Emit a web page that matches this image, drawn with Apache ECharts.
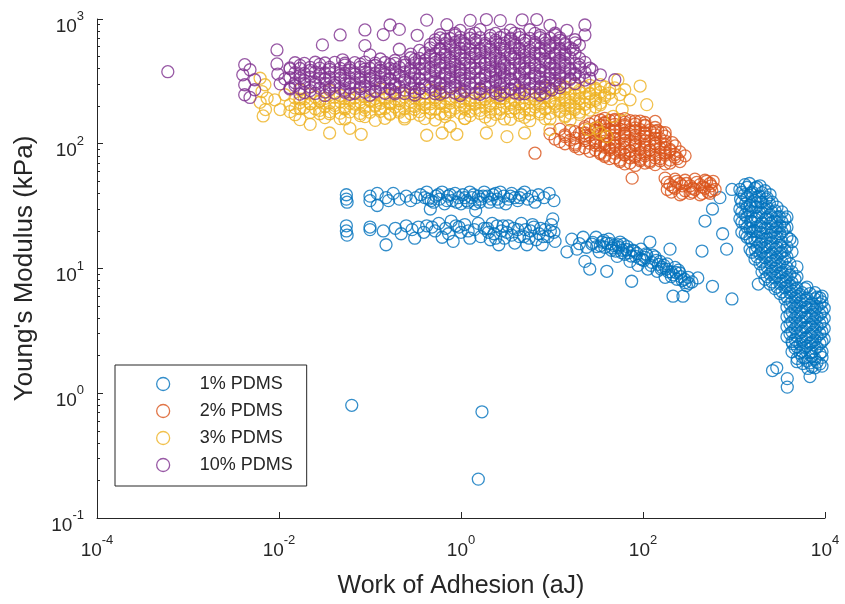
<!DOCTYPE html>
<html>
<head>
<meta charset="utf-8">
<script src="https://cdn.jsdelivr.net/npm/echarts@6/dist/echarts.min.js"></script>
<style>
  html, body { margin: 0; background: #fff; }
  #chart { width: 845px; height: 604px; }
</style>
</head>
<body>
<div id="chart"></div>
<script>
// series names and tick values
const seriesNames = ['1% PDMS', '2% PDMS', '3% PDMS', '10% PDMS'];
const xTicks = [1e-4, 1e-2, 1, 1e2, 1e4];
const yTicks = [0.1, 1, 10, 100, 1000];
const yMinorTicks = [0.2, 0.3, 0.4, 0.5, 0.6, 0.7, 0.8, 0.9,
  2, 3, 4, 5, 6, 7, 8, 9, 20, 30, 40, 50, 60, 70, 80, 90,
  200, 300, 400, 500, 600, 700, 800, 900];

// [work of adhesion (aJ), Young's modulus (kPa)]
const pdms1 = [
  // upper band ~36 kPa
  [0.055,39],[0.055,36],[0.056,34],[0.10,38],[0.10,35],[0.12,40],[0.12,32],[0.15,37],[0.16,35],[0.18,40],
  [0.21,36],[0.25,38],[0.28,35],[0.32,37],[0.40,37],[0.42,41],[0.46,30],[0.47,35],[0.53,38],[0.58,36],
  [0.62,41],[0.66,33],[0.72,38],[0.80,35],[0.86,40],[0.94,37],[1.0,33],[1.05,39],[1.15,35],[1.25,41],
  [1.32,37],[1.42,33],[1.45,29],[1.55,38],[1.65,36],[1.8,41],[1.95,38],[2.05,34],[2.25,39],[2.5,36],
  [2.7,41],[2.95,38],[3.1,33],[3.3,36],[3.6,40],[3.9,37],[4.2,35],[4.6,39],[5.0,41],[5.4,36],
  [6.0,38],[6.5,34],[7.1,39],[8.2,37],[9.3,40],[10.5,35],
  [0.44,36],[0.5,34],[0.56,39],[0.7,35],[0.76,39],[0.9,34],[1.1,37],[1.2,34],[1.38,39],[1.6,34],
  [1.75,38],[2.15,36],[2.4,40],[2.6,34],[3.5,38],[4.4,37],[0.36,39],
  // lower band ~19 kPa
  [0.055,22],[0.055,20],[0.056,18.5],[0.10,20.5],[0.10,21.5],[0.14,20],[0.15,15.5],[0.19,21],[0.22,19],[0.25,22],
  [0.29,20.5],[0.31,17.5],[0.34,21.5],[0.39,19.5],[0.42,22],[0.52,20],[0.57,23],[0.62,17.8],[0.68,21],[0.78,24],
  [0.82,16.5],[0.88,22],[1.0,19.5],[1.1,22.5],[1.25,17.5],[1.4,20.5],[1.55,23],[1.65,18],[1.95,21],[2.1,17],
  [2.3,19],[2.5,22],[2.6,15.5],[2.8,20],[3.0,17.5],[3.3,22],[3.6,18.5],[3.9,16],[4.2,20.5],[4.6,23],
  [4.9,18],[5.3,15.5],[5.8,20],[6.3,21.5],[6.7,17],[7.2,19],[7.8,15.5],[8.4,20.5],[9.0,18],[9.8,22.5],
  [10.2,25],[10.8,16.5],[10.5,19.5],[9.6,20],
  [1.8,21],[2.0,19.5],[2.2,23],[2.4,17.5],[2.9,22],[3.2,19.5],[3.8,21],[4.4,18],[5.1,20.5],[5.6,17.5],
  [6.1,22.5],[7.5,21],[8.0,18],[0.48,21.5],[0.73,19],[0.95,21.5],[1.2,20],
  // sloping band 15 - 600 aJ
  [14.6,13.6],[16.5,17.2],[18.8,14.3],[22,17.8],[23,11.4],[26,9.9],[27.5,15.7],[30.5,17.8],[33,13.6],[35.5,16.3],
  [38,14.8],[40,9.5],[42,17.2],[45,14],[48,15.3],[52,12.5],[56,16.3],[59,14],[63,13],[67,15],
  [72,11.4],[75,7.9],[77,14],[83,12.5],[88,10.6],[95,14.3],[102,11.6],[108,13.1],[113,9.9],[119,16.3],
  [125,11.2],[136,12.4],[143,9.5],[154,11.4],[162,10.2],[175,8.5],[184,10.9],[198,14.3],[203,9.4],[214,6.0],
  [225,10.2],[236,8.2],[255,9.2],[275,6.0],[290,7.7],[313,8.5],[345,7.8],[400,8.4],[445,13.8],[580,7.2],
  [950,5.7],[31,15],[37,16.8],[44,15.8],[50,13.8],[54,14.8],[61,15.6],[70,13.4],[80,13.8],[92,12],
  [105,12.3],[128,12.8],[148,10.8],[170,10.6],[190,9.4],[215,8.9],[245,9.7],[270,8.0],[300,7.3],
  [34,15.2],[40,16],[46,14.6],[53,15.5],[58,13.4],[66,14.2],[74,12.6],[86,13.2],[98,11.8],[110,12.8],
  [122,10.6],[140,11.6],[158,9.9],[180,9.9],[205,8.6],[230,9.3],[260,8.6],[285,8.2],[320,7.6],[28,16.2],
  [24,14.8],[20,15.8],
  // steep cluster 1000 - 10000 aJ
  [1320,47],[1480,48],[1930,46],[1160,43],[1700,44],[2190,42],[1300,39],[1520,40],[1900,38],[2490,39],
  [1180,36],[1700,35],[2250,36],[1340,33],[1500,32],[1960,34],[2450,33],[1160,30],[1480,29],[1720,31],
  [2190,30],[2820,29],[1320,27],[1900,28],[2490,27],[3150,26],[1160,25],[1520,24],[1700,25],[2220,25],
  [2820,24],[3630,25],[1320,23],[1930,22],[2500,23],[3200,22],[1500,21],[1690,20],[2190,21],[2820,20.5],
  [3600,21],[1330,19],[1930,19.5],[2490,18.5],[3200,19],[1500,17.5],[1700,17],[2190,17.2],[2800,17.6],[4120,17.2],
  [1930,15.7],[2490,16],[3200,15.4],[1500,14.3],[1720,14],[2190,14.6],[2820,14.3],[3630,14],[1930,13.1],[2490,12.8],
  [3200,13.3],[1700,11.9],[2190,12.2],[2820,11.7],[3630,12],[1930,10.9],[2500,11.1],[3200,10.7],[4120,10.9],[2190,9.9],
  [2820,10],[3630,9.7],[2490,9.0],[3200,9.2],[4120,8.9],[2190,8.2],[2820,8.4],[3630,8.1],[4680,8.2],[2490,7.5],
  [3200,7.6],[4120,7.4],[2820,6.9],[3630,7.0],[4680,6.8],[6030,6.9],[3200,6.3],[4120,6.4],[5310,6.2],[6840,6.3],
  [7760,6.4],[3630,5.7],[4680,5.8],[6030,5.6],[7760,5.7],[8810,5.8],[4120,5.2],[5310,5.3],[6840,5.1],[8810,5.2],
  [4680,4.8],[6030,4.9],[7760,4.7],[9800,4.8],[4120,4.3],[5310,4.4],[6840,4.2],[8810,4.3],[4680,4.0],[6030,4.05],
  [7760,3.95],[9800,4.0],[4120,3.6],[5310,3.65],[6840,3.55],[8810,3.6],[4680,3.3],[6030,3.35],[7760,3.25],[9800,3.3],
  [4120,3.0],[5310,3.05],[6840,2.95],[8810,3.0],[4680,2.7],[6030,2.75],[7760,2.68],[9800,2.72],[4400,2.5],[5310,2.48],
  [6840,2.52],[8810,2.5],[4680,2.3],[6030,2.32],[7760,2.28],[5310,2.1],[6840,2.12],[8810,2.08],[4950,1.9],[6030,1.92],
  [7760,1.88],[5700,1.73],[6840,1.75],[8810,1.72],[6500,1.58],[7760,1.6],
  [1390,44.8],[1790,45],[1220,40.8],[1580,41],[2030,40.6],[1390,37.2],[1790,37.4],[2310,37],
  [1220,34],[1580,34.2],[2030,33.8],[2620,34],[1390,31],[1790,31.2],[2310,30.8],[2970,31],
  [1220,28.3],[1580,28.5],[2030,28.1],[2620,28.3],[3370,28.4],[1390,25.8],[1790,26],[2310,25.6],[2970,25.8],[3820,25.9],
  [1220,23.5],[1580,23.7],[2030,23.3],[2620,23.5],[3370,23.6],[1390,21.4],[1790,21.6],[2310,21.2],[2970,21.4],[3820,21.5],
  [1220,19.5],[1580,19.7],[2030,19.3],[2620,19.5],[3370,19.6],[1390,17.8],[1790,18],[2310,17.6],[2970,17.8],[3820,17.9],
  [1580,16.3],[2030,16.4],[2620,16.2],[3370,16.3],[4340,16.4],[1790,14.9],[2310,15],[2970,14.8],[3820,14.9],
  [1580,13.5],[2030,13.6],[2620,13.4],[3370,13.5],[4340,13.6],[1790,12.4],[2310,12.5],[2970,12.3],[3820,12.4],
  [2030,11.3],[2620,11.4],[3370,11.2],[2310,10.3],[2970,10.4],[3820,10.2],[4920,10.3],
  [2030,9.4],[2620,9.5],[3370,9.3],[4340,9.4],[2310,8.6],[2970,8.7],[3820,8.5],[4920,8.6],
  [2620,7.8],[3370,7.9],[4340,7.7],[2970,7.1],[3820,7.2],[4920,7.0],[6340,7.1],[3370,6.5],[4340,6.6],[5590,6.4],
  [3820,5.9],[4920,6.0],[6340,5.8],[8170,5.9],[9270,6.0],[4340,5.4],[5590,5.5],[7190,5.3],[9270,5.4],
  [3820,4.9],[4920,5.0],[6340,4.85],[8170,4.95],[4340,4.5],[5590,4.55],[7190,4.45],[9270,4.5],
  [3820,4.1],[4920,4.15],[6340,4.05],[8170,4.1],[4340,3.74],[5590,3.78],[7190,3.7],[9270,3.74],
  [3820,3.41],[4920,3.45],[6340,3.38],[8170,3.42],[4340,3.11],[5590,3.14],[7190,3.08],[9270,3.11],
  [3820,2.84],[4920,2.87],[6340,2.81],[8170,2.85],[4340,2.59],[5590,2.62],[7190,2.56],[9270,2.59],
  [4920,2.36],[6340,2.38],[8170,2.34],[4340,2.15],[5590,2.17],[7190,2.13],[9270,2.15],
  [5590,1.96],[7190,1.98],[9270,1.94],[4920,1.79],[6340,1.81],[8170,1.77],[7190,1.63],[9270,1.65],
  [2650,1.52],[2950,1.6],[3850,1.31],[3850,1.12],[6840,1.36],[480,24],[580,30],[700,37],[950,43],[750,19],
  [830,14.3],[1850,7.5],
  // isolated points
  [0.063,0.80],[1.7,0.71],[1.55,0.205]
];

const pdms2 = [
  [38,160],[49,157],[63,159],[34,155],[43,154],[56,156],[72,153],[93,152],
  [26,144],[34,141],[38,146],[49,143],[63,142],[82,144],[105,141],[145,128],
  [12.2,131],[15.8,128],[23,132],[30,129],[43,130],[56,131],[72,128],[93,130],[119,129],[160,123],
  [9.5,120],[13.9,118],[20,121],[26,117],[34,119],[38,122],[49,118],[63,120],[82,117],[105,121],[136,118],
  [10.8,109],[15.8,107],[23,110],[30,106],[43,108],[56,110],[72,107],[93,109],[119,106],[154,110],
  [13.9,100],[17.9,98],[26,101],[34,97],[38,100],[49,98],[63,101],[82,99],[105,97],[136,100],[175,98],
  [20,91],[30,89],[43,92],[56,90],[72,88],[93,91],[119,89],[154,92],[198,90],
  [34,83],[38,81],[49,84],[63,82],[82,80],[105,83],[136,81],[175,84],[225,82],
  [43,76],[56,74],[72,77],[93,75],[119,73],[154,76],[198,74],[240,76],
  [63,69],[82,67],[105,70],[136,68],[175,69],
  [30,151],[38,148],[49,153],[63,149],[82,152],[105,148],[136,151],
  [23,137],[30,134],[38,139],[49,135],[63,138],[82,134],[105,139],[136,135],
  [17.9,125],[23,122],[30,127],[38,123],[49,126],[63,122],[82,127],[105,123],[136,126],[175,123],
  [13.9,114],[17.9,111],[23,116],[30,112],[38,115],[49,111],[63,116],[82,112],[105,115],[136,111],[175,115],
  [12.2,104],[17.9,101],[23,106],[30,102],[38,105],[49,101],[63,106],[82,102],[105,105],[136,101],[175,105],[210,102],
  [17.9,95],[23,93],[30,97],[38,94],[49,96],[63,93],[82,97],[105,94],[136,96],[175,93],[225,96],
  [26,87],[34,85],[43,89],[56,86],[72,88],[93,85],[119,89],[154,86],[198,88],[255,86],
  [38,79],[49,77],[63,81],[82,78],[105,80],[136,77],[175,81],[225,78],[290,80],
  [56,72],[72,70],[93,73],[119,71],[154,73],[198,70],[255,72],
  [6.5,84],[76,53],
  // small cluster ~45 kPa
  [175,53],[225,52],[290,51],[372,52],[480,51],[198,47],[255,48],[330,46],[423,47],[545,48],
  [185,43],[225,44],[290,42],[372,43],[480,44],[620,43],[255,39],[330,40],[423,39],[545,40],
  [590,50],[570,42],
  [185,49],[235,50],[300,48],[390,49],[500,50],[215,45],[270,46],[350,44],[450,45],[560,46],
  [205,41],[270,40],[350,41],[450,40],[520,41]
];

const pdms3 = [
  [12.2,297],[17.9,300],[26,294],[34,298],
  [0.017,271],[0.036,268],[0.13,274],[0.46,270],[1.62,273],[4.4,268],[9.5,272],[13.9,275],[20,268],[30,271],[43,274],
  [0.0116,247],[0.022,250],[0.047,244],[0.078,249],[0.166,245],[0.28,250],[0.59,246],[0.98,249],[2.1,244],[3.0,250],
  [5.7,247],[8.4,243],[12.2,249],[17.9,246],[26,250],[38,244],[56,248],
  [0.009,225],[0.017,228],[0.028,221],[0.06,226],[0.10,223],[0.146,229],[0.21,222],[0.35,227],[0.52,224],[0.76,229],
  [1.26,222],[1.84,226],[2.7,230],[3.9,223],[6.5,227],[9.5,221],[13.9,226],[20,229],[30,223],[45,227],
  [0.0132,206],[0.022,209],[0.041,203],[0.068,208],[0.114,204],[0.166,209],[0.28,203],[0.40,207],[0.59,210],[0.98,204],
  [1.43,208],[2.1,202],[3.5,207],[5.0,210],[7.4,204],[10.8,208],[15.8,203],[23,207],[34,205],
  [0.0103,188],[0.017,191],[0.028,185],[0.053,190],[0.088,186],[0.13,191],[0.21,185],[0.31,189],[0.46,192],[0.76,186],
  [1.1,190],[1.62,185],[2.7,189],[3.9,192],[5.7,186],[8.4,190],[12.2,185],[17.9,189],[26,186],
  [0.015,171],[0.036,174],[0.078,168],[0.166,172],[0.35,169],[0.67,174],[1.26,168],[2.4,172],[4.4,169],[7.4,173],
  [13.9,168],[20,172],
  [0.017,156],[0.047,159],[0.114,154],[0.24,158],[0.52,155],[1.1,159],[2.1,154],[3.5,157],[5.7,153],[9.5,158],[15.8,155],
  [0.015,233],[0.019,229],[0.025,237],[0.032,231],[0.041,236],[0.053,230],[0.068,234],[0.088,238],[0.114,230],[0.146,235],
  [0.188,229],[0.24,237],[0.31,232],[0.40,228],[0.52,236],[0.67,231],[0.86,238],[1.1,230],[1.43,234],[1.84,230],
  [2.4,237],[3.0,232],[3.9,228],[5.0,235],[6.5,230],[8.4,237],[10.8,231],[13.9,234],[17.9,229],[23,236],[30,231],[38,235],
  [0.017,214],[0.022,210],[0.028,218],[0.036,212],[0.047,217],[0.06,211],[0.078,215],[0.10,219],[0.13,211],[0.166,216],
  [0.21,210],[0.28,218],[0.35,213],[0.46,209],[0.59,217],[0.76,212],[0.98,219],[1.26,211],[1.62,215],[2.1,211],
  [2.7,218],[3.5,213],[4.4,209],[5.7,216],[7.4,211],[9.5,218],[12.2,212],[15.8,215],[20,210],[26,217],[34,212],
  [0.019,195],[0.025,191],[0.032,199],[0.041,193],[0.053,198],[0.068,192],[0.088,196],[0.114,200],[0.146,192],[0.188,197],
  [0.24,191],[0.31,199],[0.40,194],[0.52,190],[0.67,198],[0.86,193],[1.1,200],[1.43,192],[1.84,196],[2.4,192],
  [3.0,199],[3.9,194],[5.0,190],[6.5,197],[8.4,192],[10.8,199],[13.9,193],[17.9,196],[23,191],[30,197],
  [0.022,178],[0.028,174],[0.036,181],[0.047,176],[0.06,180],[0.078,175],[0.10,179],[0.13,182],[0.166,175],[0.21,179],
  [0.28,174],[0.35,181],[0.46,177],[0.59,173],[0.76,180],[0.98,176],[1.26,182],[1.62,175],[2.1,179],[2.7,175],
  [3.5,181],[4.4,177],[5.7,173],[7.4,180],[9.5,175],[12.2,181],[15.8,176],[20,179],
  [0.032,162],[0.053,158],[0.088,165],[0.146,160],[0.24,164],[0.40,159],[0.67,165],[1.1,160],[1.84,164],[3.0,158],
  [5.0,163],[8.4,159],[13.9,164],
  [0.21,257],[0.35,253],[0.59,260],[0.98,254],[1.62,259],[2.7,253],[4.4,258],[7.4,254],[12.2,260],[15.8,253],
  [20,258],[26,254],[34,259],[43,255],
  [8.4,281],[13.9,285],[17.9,278],[23,284],[30,279],[38,285],[49,280],
  // left edge
  [0.0062,335],[0.007,297],[0.0065,262],[0.0074,232],[0.0062,215],[0.0071,188],[0.0067,167],[0.0132,181],[0.015,194],
  // lower stragglers
  [0.022,143],[0.036,122],[0.06,133],[0.08,119],[0.42,117],[0.62,122],[0.9,119],[0.76,138],[1.9,122],[3.2,114],
  [5.0,122],[9.5,130],[34,122],[40,114],[25,130],[31,134],
  // right stragglers
  [93,290],[110,206],[72,225],[59,188],[47,166],[63,271],[53,326]
];

const pdms10 = [
  [0.0006,378],
  [0.42,980],[1.26,975],[1.9,990],[2.7,970],[4.7,985],[6.8,990],
  [0.166,895],[0.7,900],[9.5,890],[23,895],
  [0.088,817],[0.21,825],[0.98,810],[1.62,822],[3.5,815],[5.7,820],[14.6,812],
  [0.047,745],[0.14,750],[0.33,740],[0.59,748],[0.86,742],[1.26,750],[2.1,738],[3.0,746],[4.4,752],[7.4,740],[10.8,748],[23,745],
  [0.52,680],[0.67,688],[0.98,674],[1.43,684],[2.4,676],[3.5,686],[5.0,678],[8.4,684],[12.2,675],[17.9,682],
  [0.03,620],[0.088,612],[0.46,626],[0.76,615],[1.1,624],[1.84,614],[2.7,625],[3.9,616],[6.5,622],[9.5,613],[13.9,624],[20,618],
  [0.0095,565],[0.21,572],[0.35,560],[0.59,570],[0.86,558],[1.26,568],[1.62,559],[2.1,571],[3.0,562],[4.4,569],
  [5.7,558],[8.4,566],[12.2,560],[17,570],
  [0.10,516],[0.28,522],[0.46,510],[0.67,520],[0.98,512],[1.43,524],[2.4,511],[3.5,519],[5.0,513],[7.4,522],[10.8,514],[13.9,520],
  [0.05,471],[0.13,478],[0.188,465],[0.31,474],[0.40,466],[0.52,476],[0.76,468],[1.1,475],[1.62,464],[2.1,472],
  [2.7,466],[3.9,477],[5.7,469],[8.4,474],[12.2,466],
  [0.0042,430],[0.0095,436],[0.017,425],[0.028,433],[0.053,427],[0.078,435],[0.114,424],[0.166,432],[0.24,426],[0.35,434],
  [0.59,425],[0.86,433],[1.26,427],[1.84,436],[3.0,424],[4.4,432],[6.5,426],[9.5,434],[13.9,425],[20,431],
  [0.0048,392],[0.0132,398],[0.022,387],[0.036,395],[0.06,389],[0.088,397],[0.13,386],[0.188,394],[0.28,388],[0.40,396],
  [0.52,385],[0.76,393],[0.98,389],[1.43,398],[2.1,386],[2.7,394],[3.5,388],[5.0,396],[7.4,387],[10.8,395],[15.8,389],[27.5,392],
  [0.004,357],[0.0097,362],[0.017,352],[0.028,360],[0.047,354],[0.068,361],[0.10,351],[0.146,359],[0.21,353],[0.31,362],
  [0.46,352],[0.67,360],[0.98,354],[1.26,363],[1.84,351],[2.4,359],[3.0,353],[4.4,361],[6.5,352],[9.5,360],
  [12.2,354],[17.9,358],[34,357],
  [0.0054,326],[0.0116,331],[0.019,321],[0.032,329],[0.053,322],[0.078,330],[0.114,320],[0.166,328],[0.24,323],[0.35,331],
  [0.52,321],[0.76,329],[1.1,322],[1.62,330],[2.4,320],[3.5,328],[5.0,323],[7.4,331],[10.8,321],[15.8,328],[23,324],[49,326],
  [0.0042,297],[0.0103,302],[0.015,293],[0.025,300],[0.041,294],[0.06,301],[0.088,292],[0.13,299],[0.188,295],[0.28,302],
  [0.40,293],[0.59,300],[0.86,294],[1.26,301],[1.84,292],[2.7,299],[3.9,295],[5.7,302],[8.4,293],[12.2,298],
  [0.0054,271],[0.0132,275],[0.022,267],[0.036,274],[0.053,268],[0.078,276],[0.114,266],[0.166,273],[0.24,269],[0.35,276],
  [0.52,267],[0.76,274],[1.1,268],[1.62,275],[2.4,266],[3.5,273],[5.0,269],[7.4,276],[10,270],
  [0.0042,247],[0.017,250],[0.032,244],[0.06,249],[0.10,245],[0.188,251],[0.31,246],[0.59,250],[0.98,244],[1.62,249],
  [2.7,245],[4.4,250],[7.4,246],[0.0048,235],
  // dense core
  [0.015,446],[0.019,441],[0.025,450],[0.032,444],[0.041,449],[0.053,442],[0.068,447],[0.088,451],[0.114,443],[0.146,448],
  [0.188,441],[0.24,450],[0.31,445],[0.40,441],[0.52,449],[0.67,444],[0.86,451],[1.1,442],[1.43,447],[1.84,443],
  [2.4,450],[3.0,445],[3.9,441],[5.0,448],[6.5,443],[8.4,450],[10.8,444],[13.9,447],[17.9,441],[23,449],
  [0.0132,406],[0.017,401],[0.022,410],[0.028,404],[0.036,409],[0.047,402],[0.06,407],[0.078,411],[0.10,403],[0.13,408],
  [0.166,401],[0.21,410],[0.28,405],[0.35,401],[0.46,409],[0.59,404],[0.76,411],[0.98,402],[1.26,407],[1.62,403],
  [2.1,410],[2.7,405],[3.5,401],[4.4,408],[5.7,403],[7.4,410],[9.5,404],[12.2,407],[15.8,401],[20,409],[26,404],
  [0.015,371],[0.019,367],[0.025,375],[0.032,369],[0.041,374],[0.053,368],[0.068,372],[0.088,376],[0.114,368],[0.146,373],
  [0.188,367],[0.24,375],[0.31,370],[0.40,366],[0.52,374],[0.67,369],[0.86,376],[1.1,368],[1.43,372],[1.84,368],
  [2.4,375],[3.0,370],[3.9,366],[5.0,373],[6.5,368],[8.4,375],[10.8,369],[13.9,372],[17.9,367],[23,374],
  [0.0132,338],[0.017,334],[0.022,342],[0.028,336],[0.036,341],[0.047,335],[0.06,339],[0.078,343],[0.10,335],[0.13,340],
  [0.166,334],[0.21,342],[0.28,337],[0.35,333],[0.46,341],[0.59,336],[0.76,343],[0.98,335],[1.26,339],[1.62,335],
  [2.1,342],[2.7,337],[3.5,333],[4.4,340],[5.7,335],[7.4,342],[9.5,336],[12.2,339],[15.8,334],[20,341],[26,336],
  [0.015,308],[0.019,304],[0.025,312],[0.032,306],[0.041,311],[0.053,305],[0.068,309],[0.088,313],[0.114,305],[0.146,310],
  [0.188,304],[0.24,312],[0.31,307],[0.40,303],[0.52,311],[0.67,306],[0.86,313],[1.1,305],[1.43,309],[1.84,305],
  [2.4,312],[3.0,307],[3.9,303],[5.0,310],[6.5,305],[8.4,312],[10.8,306],[13.9,309],[17.9,304],
  [0.0132,281],[0.017,277],[0.022,285],[0.028,279],[0.036,284],[0.047,278],[0.06,282],[0.078,286],[0.10,278],[0.13,283],
  [0.166,277],[0.21,285],[0.28,280],[0.35,276],[0.46,284],[0.59,279],[0.76,286],[0.98,278],[1.26,282],[1.62,278],
  [2.1,285],[2.7,280],[3.5,276],[4.4,283],[5.7,278],[7.4,285],[9.5,279],[12.2,282],
  [0.019,257],[0.025,253],[0.032,260],[0.041,255],[0.053,259],[0.068,254],[0.088,258],[0.114,261],[0.146,254],[0.188,258],
  [0.24,253],[0.31,260],[0.40,256],[0.52,252],[0.67,259],[0.86,255],[1.1,261],[1.43,254],[1.84,258],[2.4,254],
  [3.0,260],[3.9,256],[5.0,252],[6.5,258],[8.4,254],
  // upper part 0.5 - 20 aJ
  [0.86,765],[1.43,770],[2.4,766],[3.9,771],[6.5,767],[10.8,770],
  [0.59,705],[0.76,698],[0.98,712],[1.26,701],[1.62,708],[2.1,699],[2.7,711],[3.5,703],[4.4,709],[5.7,700],[7.4,710],[9.5,702],[12.2,707],
  [0.52,643],[0.67,636],[0.86,650],[1.1,639],[1.43,646],[1.84,637],[2.4,649],[3.0,641],[3.9,647],[5.0,638],[6.5,648],[8.4,640],[10.8,645],[13.9,637],[17.9,644],
  [0.46,587],[0.59,580],[0.76,594],[0.98,583],[1.26,590],[1.62,581],[2.1,593],[2.7,585],[3.5,591],[4.4,582],[5.7,592],[7.4,584],[9.5,589],[12.2,581],[15.8,588],
  [0.40,536],[0.52,530],[0.67,542],[0.86,532],[1.1,539],[1.43,531],[1.84,541],[2.4,534],[3.0,540],[3.9,531],[5.0,541],[6.5,533],[8.4,538],[10.8,530],[13.9,537],[17.9,532],
  [0.28,489],[0.35,483],[0.46,494],[0.59,485],[0.76,492],[0.98,484],[1.26,493],[1.62,486],[2.1,491],[2.7,483],[3.5,493],[4.4,485],[5.7,490],[7.4,483],[9.5,492],[12.2,486],[15.8,490],[20,484]
];

const chart = echarts.init(document.getElementById('chart'));
const colors = ['#0072BD', '#D95319', '#EDB120', '#7E2F8E'];
const textColor = '#262626';
const font = '"Liberation Sans", Arial, Helvetica, sans-serif';

function powLabel(v) {
  const e = Math.round(Math.log10(v));
  return '{b|10}{s|' + e + '}';
}
const rich = {
  b: { fontSize: 19, color: textColor, fontFamily: font, verticalAlign: 'bottom', lineHeight: 26 },
  s: { fontSize: 13, color: textColor, fontFamily: font, verticalAlign: 'top', lineHeight: 10 }
};

const allData = [pdms1, pdms2, pdms3, pdms10];

chart.setOption({
  animation: false,
  backgroundColor: '#fff',
  grid: { left: 97, right: 20, top: 19, bottom: 84 },
  legend: {
    orient: 'vertical',
    left: 115,
    top: 365,
    padding: [10, 14, 12, 41],
    itemGap: 9,
    itemWidth: 13,
    itemHeight: 13,
    borderColor: textColor,
    borderWidth: 1,
    backgroundColor: '#fff',
    textStyle: { fontSize: 18, color: textColor, fontFamily: font, padding: [0, 0, 0, 25] },
    data: seriesNames.map((n, i) => ({
      name: n,
      icon: 'circle',
      itemStyle: { color: 'transparent', borderColor: colors[i], borderWidth: 1.3 }
    }))
  },
  xAxis: {
    type: 'log',
    logBase: 10,
    min: 1e-4,
    max: 1e4,
    name: 'Work of Adhesion (aJ)',
    nameLocation: 'middle',
    nameGap: 56,
    nameTextStyle: { fontSize: 25, color: textColor, fontFamily: font },
    axisLine: { lineStyle: { color: textColor, width: 1 } },
    axisTick: { inside: true, length: 6, customValues: xTicks, lineStyle: { color: textColor } },
    axisLabel: { customValues: xTicks, margin: 16, formatter: powLabel, rich: rich },
    splitLine: { show: false }
  },
  yAxis: [{
    type: 'log',
    logBase: 10,
    min: 0.1,
    max: 1000,
    name: "Young's Modulus (kPa)",
    nameLocation: 'middle',
    nameGap: 59,
    nameTextStyle: { fontSize: 26, color: textColor, fontFamily: font },
    axisLine: { lineStyle: { color: textColor, width: 1 } },
    axisTick: { inside: true, length: 6, customValues: yTicks, lineStyle: { color: textColor } },
    axisLabel: { customValues: yTicks, margin: 13, padding: [8, 0, 0, 0], formatter: powLabel, rich: rich },
    splitLine: { show: false }
  }, {
    type: 'log',
    logBase: 10,
    min: 0.1,
    max: 1000,
    position: 'left',
    axisLine: { show: false },
    axisTick: { inside: true, length: 3, customValues: yMinorTicks, lineStyle: { color: textColor } },
    axisLabel: { show: false },
    splitLine: { show: false }
  }],
  series: allData.map((d, i) => ({
    name: seriesNames[i],
    type: 'scatter',
    data: d,
    symbol: 'circle',
    symbolSize: 12,
    silent: true,
    itemStyle: { color: 'transparent', borderColor: colors[i], borderWidth: 1.3 }
  }))
});
</script>
</body>
</html>
